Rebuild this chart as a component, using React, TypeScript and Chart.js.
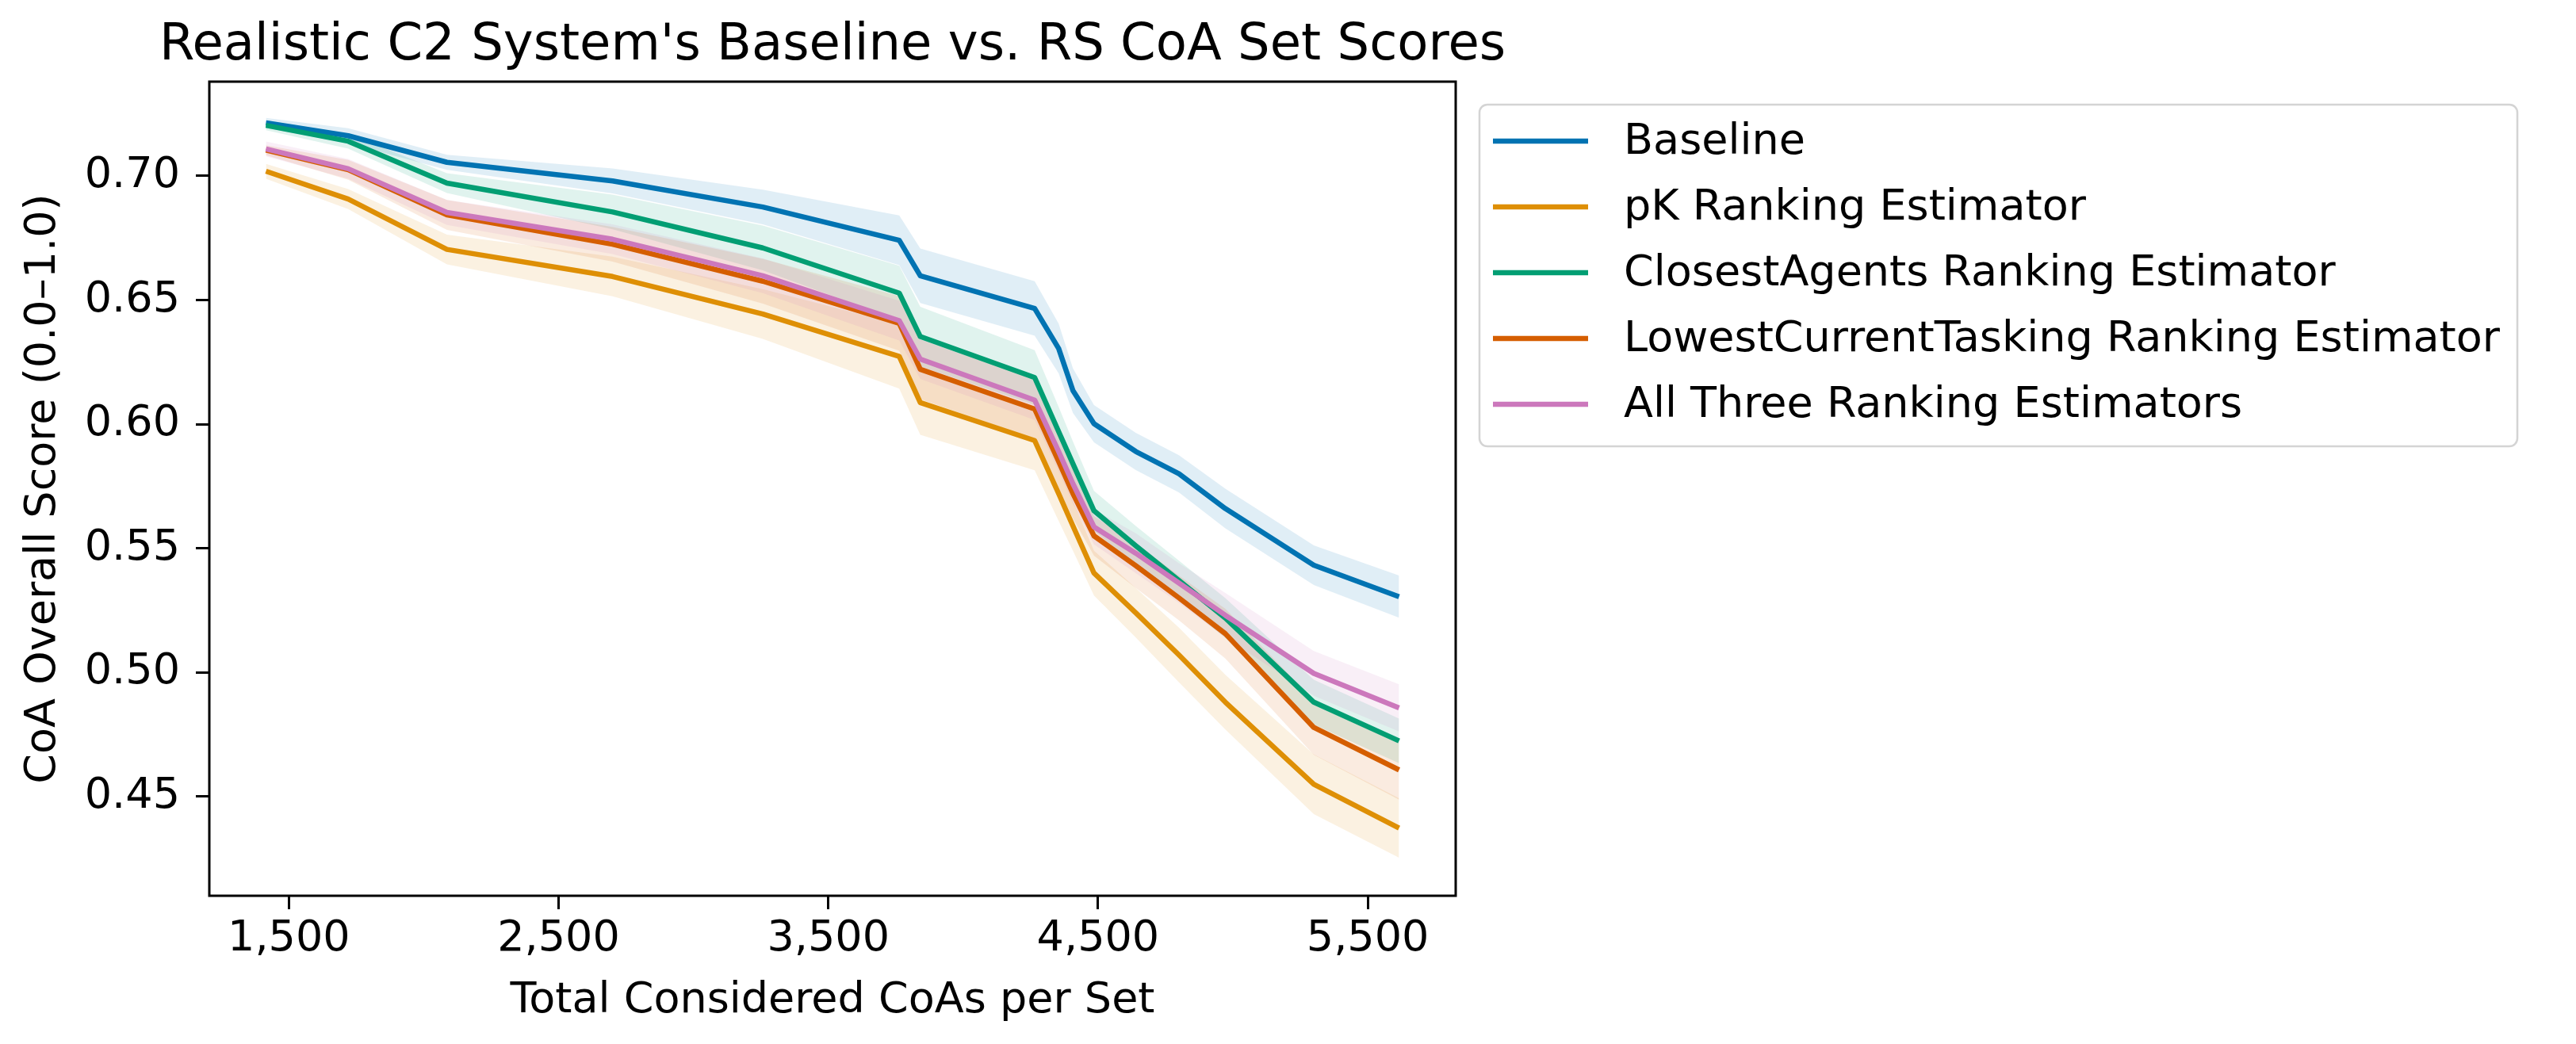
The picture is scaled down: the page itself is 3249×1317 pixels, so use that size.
import React, { useEffect, useRef } from "react";
import { Chart, registerables } from "chart.js";
Chart.register(...registerables);

const W = 3249;
const H = 1317;

const TITLE = "Realistic C2 System's Baseline vs. RS CoA Set Scores";
const X_LABEL = "Total Considered CoAs per Set";
const Y_LABEL = "CoA Overall Score (0.0–1.0)";

const xValues = [1415, 1720, 2086, 2700, 3257, 3763, 3841, 4265, 4354, 4407, 4485, 4640, 4800, 4972, 5300, 5616];

const baseline = [0.7214, 0.7162, 0.7055, 0.698, 0.6875, 0.6741, 0.6598, 0.6466, 0.6305, 0.6135, 0.6002, 0.589, 0.58, 0.566, 0.5432, 0.5305];
const pkRanking = [0.7019, 0.6907, 0.6704, 0.6595, 0.6444, 0.6273, 0.6087, 0.5934, 0.572, 0.559, 0.54, 0.524, 0.507, 0.488, 0.4549, 0.4373];
const closestAgents = [0.7204, 0.714, 0.6971, 0.6855, 0.671, 0.6528, 0.6353, 0.6188, 0.597, 0.584, 0.5651, 0.551, 0.537, 0.5219, 0.488, 0.4724];
const lowestTasking = [0.7104, 0.7025, 0.6843, 0.6725, 0.6576, 0.6406, 0.6221, 0.6061, 0.585, 0.572, 0.555, 0.543, 0.53, 0.5156, 0.4778, 0.4607];
const allThree = [0.7109, 0.7029, 0.6853, 0.6745, 0.6598, 0.6417, 0.6262, 0.6097, 0.589, 0.576, 0.5586, 0.548, 0.536, 0.523, 0.4996, 0.4857];

const baselineCi = [0.002, 0.003, 0.003, 0.005, 0.007, 0.01, 0.011, 0.011, 0.01, 0.009, 0.0075, 0.0075, 0.0075, 0.008, 0.008, 0.0085];
const pkCi = [0.003, 0.004, 0.006, 0.008, 0.01, 0.013, 0.013, 0.012, 0.011, 0.01, 0.009, 0.01, 0.011, 0.011, 0.012, 0.012];
const closestCi = [0.002, 0.003, 0.004, 0.007, 0.009, 0.011, 0.012, 0.011, 0.01, 0.009, 0.008, 0.008, 0.008, 0.008, 0.009, 0.009];
const lowestCi = [0.002, 0.004, 0.006, 0.007, 0.009, 0.011, 0.012, 0.012, 0.011, 0.01, 0.008, 0.009, 0.009, 0.01, 0.011, 0.012];
const allThreeCi = [0.003, 0.004, 0.005, 0.006, 0.007, 0.008, 0.008, 0.008, 0.008, 0.008, 0.007, 0.008, 0.008, 0.009, 0.009, 0.0095];

const seriesLabels = [
  "Baseline",
  "pK Ranking Estimator",
  "ClosestAgents Ranking Estimator",
  "LowestCurrentTasking Ranking Estimator",
  "All Three Ranking Estimators",
];
const seriesValues = [baseline, pkRanking, closestAgents, lowestTasking, allThree];
const seriesCi = [baselineCi, pkCi, closestCi, lowestCi, allThreeCi];
const seriesRgb = ["1,115,178", "222,143,5", "2,158,115", "213,94,0", "204,120,188"];

const xTicks = [1500, 2500, 3500, 4500, 5500];
const yTicks = [0.45, 0.5, 0.55, 0.6, 0.65, 0.7];

const FONT = '"DejaVu Sans", "Liberation Sans", sans-serif';

const decor = {
  id: "decor",
  beforeDraw(chart: any) {
    const { ctx } = chart;
    ctx.save();
    ctx.fillStyle = "#fff";
    ctx.fillRect(0, 0, chart.width, chart.height);
    ctx.restore();
  },
  afterDraw(chart: any) {
    const { ctx, chartArea: a } = chart;
    ctx.save();
    ctx.strokeStyle = "#000";
    ctx.lineWidth = 3;
    ctx.strokeRect(a.left, a.top, a.right - a.left, a.bottom - a.top);

    ctx.fillStyle = "#000";
    ctx.font = `64px ${FONT}`;
    ctx.textAlign = "center";
    ctx.textBaseline = "alphabetic";
    ctx.fillText(TITLE, (a.left + a.right) / 2, 75);

    // legend
    ctx.font = `54px ${FONT}`;
    let maxW = 0;
    seriesLabels.forEach((l) => (maxW = Math.max(maxW, ctx.measureText(l).width)));
    const bx = a.right + 30;
    const by = a.top + 29;
    const bw = 182 + maxW + 22;
    const bh = 431;
    ctx.beginPath();
    ctx.roundRect(bx, by, bw, bh, 10);
    ctx.fillStyle = "rgba(255,255,255,0.8)";
    ctx.fill();
    ctx.strokeStyle = "#d4d4d4";
    ctx.lineWidth = 2.5;
    ctx.stroke();
    chart.data.datasets
      .filter((d: any) => d.isMain)
      .forEach((d: any, i: number) => {
        const y = by + 46 + i * 83;
        ctx.strokeStyle = d.borderColor;
        ctx.lineWidth = 6.5;
        ctx.beginPath();
        ctx.moveTo(bx + 17, y);
        ctx.lineTo(bx + 137, y);
        ctx.stroke();
        ctx.fillStyle = "#000";
        ctx.textAlign = "left";
        ctx.textBaseline = "middle";
        ctx.fillText(d.label, bx + 182, y + 2);
      });
    ctx.restore();
  },
};

export default function App() {
  const ref = useRef<HTMLCanvasElement>(null);
  useEffect(() => {
    document.body.style.margin = "0";
    const lineOrder = [4, 3, 2, 1, 0];
    const lines = seriesLabels.map((label, i) => ({
      type: "line",
      label,
      isMain: true,
      data: xValues.map((x, j) => ({ x, y: seriesValues[i][j] })),
      borderColor: `rgb(${seriesRgb[i]})`,
      backgroundColor: `rgb(${seriesRgb[i]})`,
      borderWidth: 6.5,
      borderJoinStyle: "round",
      pointRadius: 0,
      fill: false,
      tension: 0,
      order: lineOrder[i],
    }));
    const bands: any[] = [];
    seriesLabels.forEach((label, i) => {
      bands.push({
        type: "line",
        label: label + " upper",
        data: xValues.map((x, j) => ({ x, y: seriesValues[i][j] + seriesCi[i][j] })),
        borderWidth: 0,
        borderColor: "rgba(0,0,0,0)",
        pointRadius: 0,
        fill: false,
        tension: 0,
        order: 20 - i,
      });
      bands.push({
        type: "line",
        label: label + " lower",
        data: xValues.map((x, j) => ({ x, y: seriesValues[i][j] - seriesCi[i][j] })),
        borderWidth: 0,
        borderColor: "rgba(0,0,0,0)",
        backgroundColor: `rgba(${seriesRgb[i]},0.12)`,
        pointRadius: 0,
        fill: "-1",
        tension: 0,
        order: 20 - i,
      });
    });

    const chart = new Chart(ref.current!, {
      type: "line",
      data: { datasets: [...lines, ...bands] as any },
      options: {
        responsive: false,
        animation: false,
        devicePixelRatio: 1,
        layout: { padding: { left: 0, top: 103, right: 1413, bottom: 0 } },
        plugins: {
          legend: { display: false },
          title: { display: false },
          tooltip: { enabled: false },
          filler: { propagate: false },
        },
        scales: {
          x: {
            type: "linear",
            min: 1205,
            max: 5826,
            afterBuildTicks: (s: any) => {
              s.ticks = xTicks.map((v) => ({ value: v }));
            },
            afterFit: (s: any) => {
              s.height = 187;
            },
            ticks: {
              color: "#000",
              font: { family: FONT, size: 54 },
              padding: 6,
              maxRotation: 0,
              callback: (v: any) => Number(v).toLocaleString("en-US"),
            },
            grid: { display: true, drawOnChartArea: false, drawTicks: true, tickLength: 17, color: "#000", lineWidth: 3 },
            border: { display: false },
            title: {
              display: true,
              text: X_LABEL,
              color: "#000",
              font: { family: FONT, size: 54 },
              padding: { top: 0, bottom: 22 },
            },
          },
          y: {
            type: "linear",
            min: 0.41,
            max: 0.738,
            afterBuildTicks: (s: any) => {
              s.ticks = yTicks.map((v) => ({ value: v }));
            },
            afterFit: (s: any) => {
              s.width = 264;
            },
            ticks: {
              color: "#000",
              font: { family: FONT, size: 54 },
              padding: 20,
              callback: (v: any) => Number(v).toFixed(2),
            },
            grid: { display: true, drawOnChartArea: false, drawTicks: true, tickLength: 17, color: "#000", lineWidth: 3 },
            border: { display: false },
            title: {
              display: true,
              text: Y_LABEL,
              color: "#000",
              font: { family: FONT, size: 54 },
              padding: { top: 23, bottom: 0 },
            },
          },
        },
      },
      plugins: [decor],
    } as any);
    return () => chart.destroy();
  }, []);
  return (
    <div style={{ width: W, height: H }}>
      <canvas ref={ref} width={W} height={H} style={{ width: W, height: H, display: "block" }} />
    </div>
  );
}
